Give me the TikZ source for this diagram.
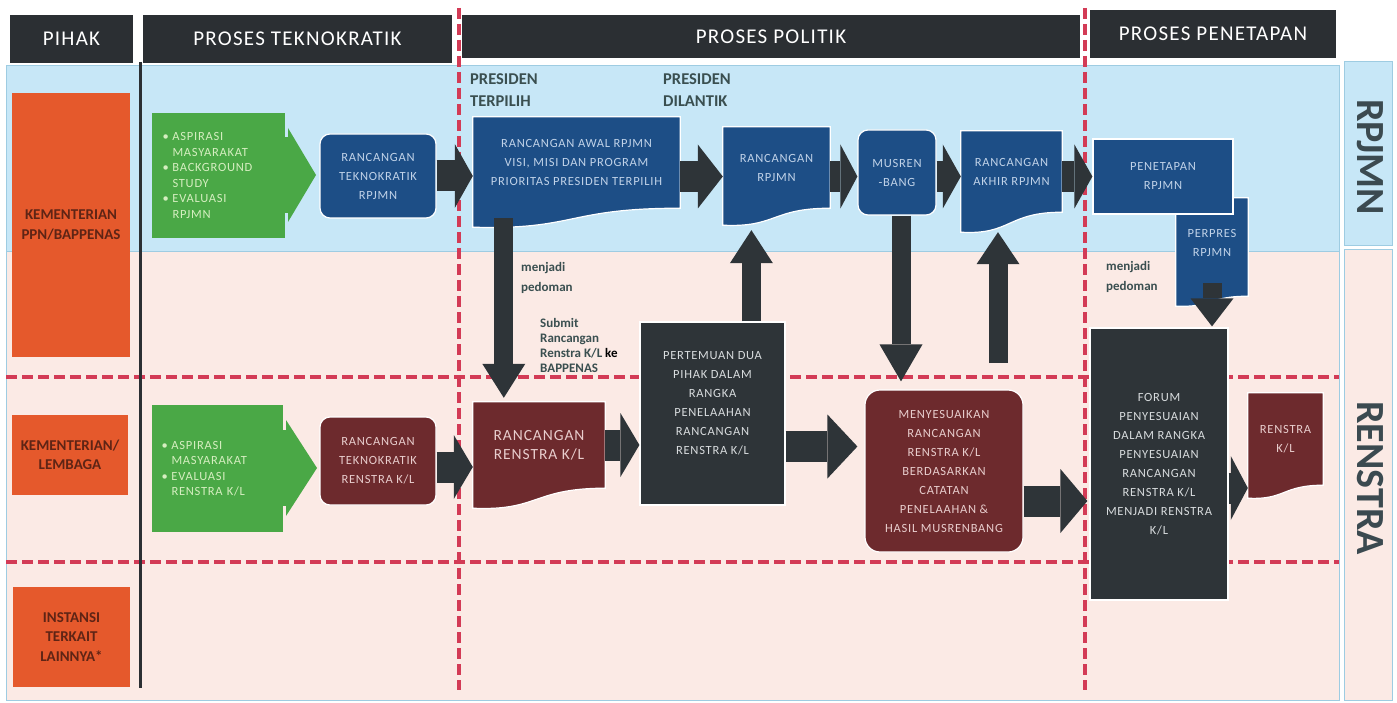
\documentclass[tikz,border=0pt]{standalone}
\usepackage{fontspec}
\setmainfont{Carlito}
\newfontfamily\spfont[LetterSpace=6]{Carlito}
\usetikzlibrary{arrows.meta,calc}
\pgfdeclarelayer{back}
\pgfdeclarelayer{mid}
\pgfsetlayers{back,mid,main}
\definecolor{hdrc}{HTML}{2B2F33}
\definecolor{bluec}{HTML}{C7E7F7}
\definecolor{pinkc}{HTML}{FBEAE5}
\definecolor{bordc}{HTML}{9ECCE2}
\definecolor{orngc}{HTML}{E5592C}
\definecolor{orntxt}{HTML}{5E2415}
\definecolor{grnc}{HTML}{4AA846}
\definecolor{grntxt}{HTML}{D5EEC0}
\definecolor{navyc}{HTML}{1D4E86}
\definecolor{navytxt}{HTML}{C0D2E8}
\definecolor{brnc}{HTML}{6D2A2D}
\definecolor{brntxt}{HTML}{E8CDCD}
\definecolor{darkc}{HTML}{2E3438}
\definecolor{darktxt}{HTML}{D8DCDE}
\definecolor{arrc}{HTML}{2E3438}
\definecolor{redc}{HTML}{D33B56}
\definecolor{lblc}{HTML}{3A4F50}
\definecolor{sidec}{HTML}{3B4A50}
\tikzset{
  hdr/.style={fill=hdrc, text=white, inner sep=0pt, font=\spfont\fontsize{21}{24}\selectfont},
  box/.style={inner sep=0pt, align=center, font=\spfont\fontsize{12.5}{19}\selectfont},
  navybox/.style={box, fill=navyc, text=navytxt, draw=white, line width=1.2pt},
  brnbox/.style={box, fill=brnc, text=brntxt, draw=white, line width=1.2pt},
  darkbox/.style={box, fill=darkc, text=darktxt, draw=white, line width=1.2pt},
  docn/.style={box},
  orng/.style={fill=orngc, text=orntxt, inner sep=0pt, align=center, font=\bfseries\fontsize{15}{19.5}\selectfont},
  grn/.style={fill=grnc, text=grntxt, inner sep=0pt, align=left, text width=112pt, font=\spfont\fontsize{12.5}{15.5}\selectfont},
  lbl/.style={text=lblc, inner sep=0pt, align=left, font=\bfseries\fontsize{13}{20}\selectfont},
  pres/.style={text=lblc, inner sep=0pt, align=left, font=\bfseries\fontsize{16.5}{22}\selectfont},
  side/.style={text=sidec, inner sep=0pt, rotate=-90, font=\bfseries\fontsize{40}{40}\selectfont},
  harrow/.style={draw=arrc, line width=31pt, -{Triangle[length=#1, width=64pt, line width=0pt]}},
  harrow/.default=20pt,
  varrow/.style={draw=arrc, line width=19pt, -{Triangle[length=#1, width=43pt, line width=0pt]}},
  varrow/.default=34pt,
  reddash/.style={draw=redc, line width=3.5pt, dash pattern=on 11pt off 5pt},
}
\newcommand\docshape[3]{%
\begin{pgfonlayer}{mid}
\filldraw[fill=#2, draw=white, line width=1.2pt] (#1.north west) -- (#1.north east) -- (#1.south east)
  .. controls ($(#1.south west)!0.45!(#1.south east)$) and ($(#1.south west)!0.5!(#1.south east)+(0,#3*1.15)$)
  .. ($(#1.south west)+(0,#3)$) -- cycle;
\end{pgfonlayer}}
\begin{document}
\begin{tikzpicture}[x=1pt,y=-1pt]
\useasboundingbox (0,0) rectangle (1397,703);
% backgrounds
\begin{pgfonlayer}{back}
\fill[white] (0,0) rectangle (1397,703);
\filldraw[fill=bluec, draw=bordc, line width=1pt] (6,66) rectangle (1339,252);
\filldraw[fill=pinkc, draw=bordc, line width=1pt] (6,252) rectangle (1339,700);
\filldraw[fill=bluec, draw=bordc, line width=1pt] (1344,62) rectangle (1392,246);
\filldraw[fill=pinkc, draw=bordc, line width=1pt] (1344,250) rectangle (1392,700);
\draw[reddash] (6,377) -- (1339,377);
\draw[reddash] (6,562) -- (1339,562);
\draw[reddash] (459,8) -- (459,690);
\draw[reddash] (1085,8) -- (1085,690);
\draw[hdrc, line width=3pt] (140,62) -- (140,688);
\end{pgfonlayer}
% headers
\node[hdr, minimum width=123pt, minimum height=48pt] (hP) at (71.5,39) {PIHAK};
\node[hdr, minimum width=309pt, minimum height=48pt] (hT) at (297.5,39) {PROSES TEKNOKRATIK};
\node[hdr, minimum width=618pt, minimum height=43pt] (hPo) at (771,36.5) {PROSES POLITIK};
\node[hdr, minimum width=246pt, minimum height=48pt] (hPe) at (1213,34) {PROSES PENETAPAN};
% side labels
\node[side] (rpjLbl) at (1370,157) {RPJMN};
\node[side] (renLbl) at (1370,478) {RENSTRA};
% pihak
\node[orng, minimum width=118pt, minimum height=264pt] (o1) at (71,225) {KEMENTERIAN\\PPN/BAPPENAS};
\node[orng, minimum width=116pt, minimum height=80pt] (o2) at (70,455) {KEMENTERIAN/\\LEMBAGA};
\node[orng, minimum width=117pt, minimum height=100pt] (o3) at (71.5,637) {INSTANSI\\TERKAIT\\LAINNYA*};
% green inputs
\node[grn, minimum width=133pt, minimum height=125pt] (g1) at (218.5,175.5) {\makebox[10pt][l]{•}ASPIRASI\\\hspace*{10pt}MASYARAKAT\\\makebox[10pt][l]{•}BACKGROUND\\\hspace*{10pt}STUDY\\\makebox[10pt][l]{•}EVALUASI\\\hspace*{10pt}RPJMN};
\fill[grnc] (284,137) rectangle (289,213);
\fill[grnc] (288,128) -- (316,175) -- (288,222) -- cycle;
\node[grn, minimum width=131pt, minimum height=127pt] (g2) at (217.5,468.5) {\makebox[10pt][l]{•}ASPIRASI\\\hspace*{10pt}MASYARAKAT\\\makebox[10pt][l]{•}EVALUASI\\\hspace*{10pt}RENSTRA K/L};
\fill[grnc] (282,430) rectangle (288,506);
\fill[grnc] (286,420) -- (317,468) -- (286,516) -- cycle;
% technocratic drafts
\node[navybox, rounded corners=10pt, minimum width=116pt, minimum height=84pt] (tekR) at (378,176) {RANCANGAN\\TEKNOKRATIK\\RPJMN};
\node[brnbox, rounded corners=10pt, minimum width=116pt, minimum height=88pt] (tekRen) at (378,461) {RANCANGAN\\TEKNOKRATIK\\RENSTRA K/L};
% RPJMN row
\node[docn, text=navytxt, minimum width=207pt, minimum height=91pt] (awal) at (576.5,162.5) {RANCANGAN AWAL RPJMN\\VISI, MISI DAN PROGRAM\\PRIORITAS PRESIDEN TERPILIH};
\docshape{awal}{navyc}{19}
\node[docn, text=navytxt, minimum width=107pt, minimum height=81pt] (rpj) at (776.5,167.5) {RANCANGAN\\RPJMN};
\docshape{rpj}{navyc}{17}
\node[navybox, rounded corners=10pt, minimum width=78pt, minimum height=85pt] (mus) at (897,172.5) {MUSREN\\-BANG};
\node[docn, text=navytxt, minimum width=101pt, minimum height=81pt] (akhir) at (1011.5,171.5) {RANCANGAN\\AKHIR RPJMN};
\docshape{akhir}{navyc}{20}
\node[docn, text=navytxt, minimum width=72pt, minimum height=98pt] (perpres) at (1212,247) {\\PERPRES\\RPJMN\\ };
\docshape{perpres}{navyc}{10}
\node[navybox, minimum width=140pt, minimum height=75pt] (pen) at (1163,176.5) {PENETAPAN\\RPJMN};
% RENSTRA row
\node[docn, text=brntxt, minimum width=132pt, minimum height=86pt, font=\spfont\fontsize{15.5}{19}\selectfont] (renDoc) at (539,445) {RANCANGAN\\RENSTRA K/L};
\docshape{renDoc}{brnc}{20}
\node[darkbox, minimum width=145pt, minimum height=183pt] (pert) at (712.5,413.5) {};
\node[box, text=darktxt] (pertT) at (712.5,403) {PERTEMUAN DUA\\PIHAK DALAM\\RANGKA\\PENELAAHAN\\RANCANGAN\\RENSTRA K/L};
\node[brnbox, rounded corners=15pt, minimum width=158pt, minimum height=162pt] (meny) at (944,471) {MENYESUAIKAN\\RANCANGAN\\RENSTRA K/L\\BERDASARKAN\\CATATAN\\PENELAAHAN \&\\HASIL MUSRENBANG};
\node[darkbox, minimum width=138pt, minimum height=272pt] (forum) at (1159,464) {FORUM\\PENYESUAIAN\\DALAM RANGKA\\PENYESUAIAN\\RANCANGAN\\RENSTRA K/L\\MENJADI RENSTRA\\K/L};
\node[docn, text=brntxt, minimum width=75pt, minimum height=92pt] (renstra) at (1285.5,439) {RENSTRA\\K/L};
\docshape{renstra}{brnc}{13}
% labels
\node[pres, anchor=west] (presT) at (470,90) {PRESIDEN\\TERPILIH};
\node[pres, anchor=west] (presD) at (663,90) {PRESIDEN\\DILANTIK};
\node[lbl, anchor=west] (mp1) at (521,278) {menjadi\\pedoman};
\node[lbl, anchor=west, font=\bfseries\fontsize{13}{15}\selectfont] (sub) at (540,345) {Submit\\Rancangan\\Renstra K/L {\color{black}ke}\\BAPPENAS};
\node[lbl, anchor=west] (mp2) at (1106,277) {menjadi\\pedoman};
% horizontal arrows
\draw[harrow=18pt] (tekR.east) -- (tekR.east -| awal.west);
\coordinate (a2) at ([yshift=-14pt]awal.east);
\draw[harrow=25pt] (a2) -- (a2 -| rpj.west);
\coordinate (a3) at ([yshift=-9pt]rpj.east);
\draw[harrow=17pt] (a3) -- (a3 -| mus.west);
\coordinate (a4) at ([yshift=-4pt]mus.east);
\draw[harrow=18pt] (a4) -- (a4 -| akhir.west);
\coordinate (a5) at ([yshift=-5pt]akhir.east);
\draw[harrow=18pt] (a5) -- (a5 -| pen.west);
\coordinate (a6) at ([yshift=-6pt]tekRen.east);
\draw[harrow=19pt] (a6) -- (a6 -| renDoc.west);
\draw[harrow=19pt] (renDoc.east) -- (renDoc.east -| pert.west);
\coordinate (a8) at ([yshift=-33pt]pert.east);
\draw[harrow=30pt, shorten >=7pt] (a8) -- (a8 -| meny.west);
\coordinate (a9) at ([yshift=-30pt]meny.east);
\draw[harrow=27pt, shorten >=2pt] (a9) -- (a9 -| forum.west);
\coordinate (a10) at ([yshift=-24pt]forum.east);
\draw[harrow=17pt] (a10) -- (a10 -| renstra.west);
% vertical arrows
\coordinate (v1s) at ([xshift=31pt, yshift=-10pt]awal.south west);
\draw[varrow=34pt, shorten >=4pt] (v1s) -- (v1s |- renDoc.north);
\coordinate (v2s) at ([xshift=112pt]pert.north west);
\coordinate (v2e) at ([yshift=-22pt]rpj.south);
\draw[varrow=33pt] (v2s) -- (v2s |- v2e);
\coordinate (v3s) at ([xshift=4pt]mus.south);
\draw[varrow=37pt, shorten >=8pt] (v3s) -- (v3s |- meny.north);
\coordinate (v4s) at (998,363);
\coordinate (v4e) at ([yshift=-20pt]akhir.south);
\draw[varrow=32pt] (v4s) -- (v4s |- v4e);
\coordinate (v5s) at ([yshift=13pt]perpres.south);
\draw[varrow=28pt, shorten >=1pt] (v5s) -- (v5s |- forum.north);
\end{tikzpicture}
\end{document}
